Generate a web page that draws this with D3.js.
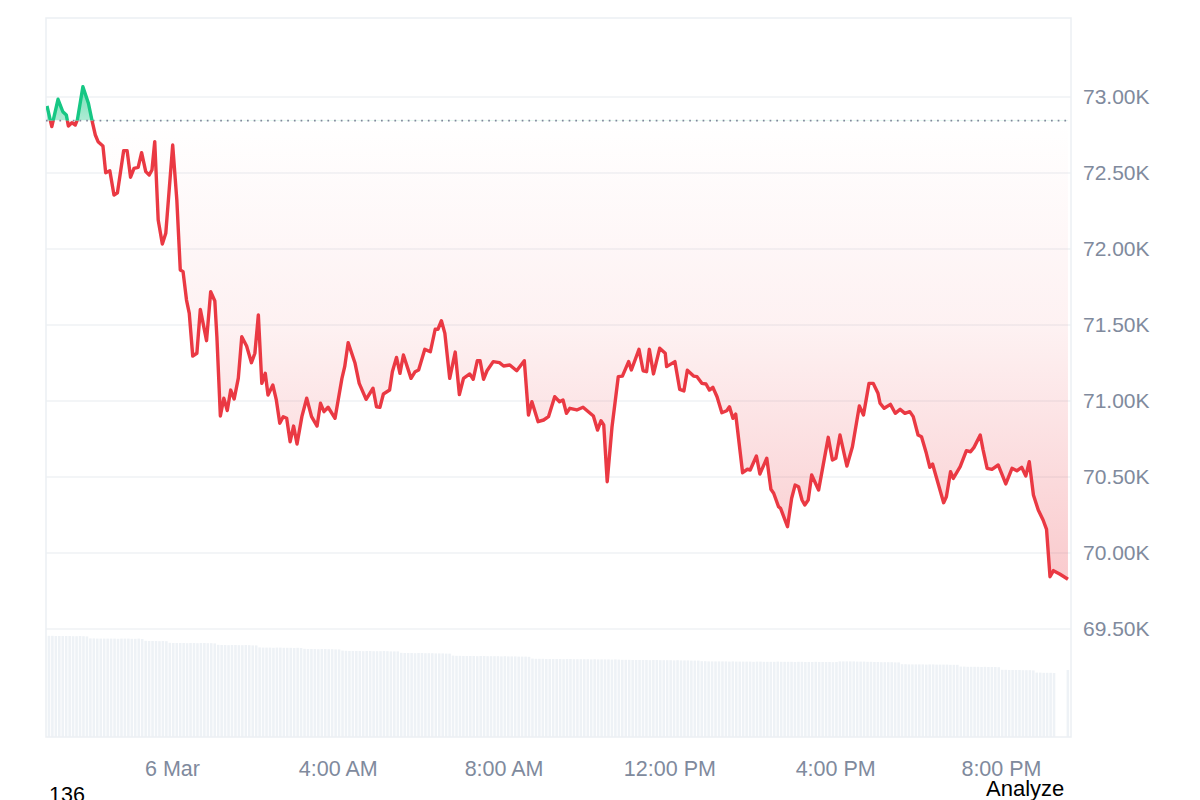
<!DOCTYPE html>
<html>
<head>
<meta charset="utf-8">
<script src="https://cdn.jsdelivr.net/npm/d3@7"></script>
<style>
  body { margin: 0; background: #fff; }
  svg { display: block; font-family: "Liberation Sans", Arial, sans-serif; }
</style>
</head>
<body>
<div id="chart"></div>
<script>
// minutes relative to 6 Mar 00:00
var minutes = [-181,-174,-165,-158,-153,-150,-145,-140,-137,-129,-121,-116,-111,-107,-100,-96,-90,-84,-79,-70,
  -65,-60,-55,-49,-44,-38,-33,-29,-25,-20,-14,-9,1,7,12,16,21,25,30,36,
  41,50,56,62,65,70,75,80,85,90,96,101,108,115,120,125,130,135,139,146,
  151,156,161,166,171,176,181,188,195,202,210,215,220,226,236,246,250,255,265,271,
  281,291,296,301,306,315,319,325,330,335,346,352,357,366,374,381,385,390,395,402,
  410,416,422,431,436,442,446,451,456,465,474,480,489,499,510,516,521,530,538,545,
  554,561,566,571,576,586,595,610,616,621,625,630,637,646,652,661,665,676,682,687,
  691,697,706,714,716,728,735,741,746,755,760,767,773,778,783,789,796,803,807,812,
  816,826,833,837,846,851,861,867,871,878,881,891,897,902,907,912,916,921,926,936,
  950,956,961,967,977,985,995,1001,1009,1015,1022,1025,1031,1040,1047,1054,1061,1068,1073,1080,
  1085,1092,1097,1101,1117,1121,1127,1131,1141,1150,1156,1161,1170,1174,1180,1187,1196,1207,1216,1223,
  1230,1236,1241,1247,1254,1261,1266,1271,1276,1285,1297];

var prices = [72941,72805,72985,72903,72882,72809,72831,72816,72849,73068,72959,72849,72750,72706,72678,72502,72515,72355,72370,72647,
  72647,72472,72531,72537,72634,72509,72487,72520,72706,72191,72033,72103,72684,72322,71862,71851,71664,71577,71296,71314,
  71603,71397,71719,71658,71421,70901,71018,70937,71072,71013,71151,71423,71362,71252,71314,71566,71116,71182,71039,71105,
  71007,70853,70897,70886,70732,70835,70717,70897,71018,70897,70835,70985,70930,70959,70886,71149,71226,71384,71248,71116,
  71011,71084,70962,70958,71046,71072,71193,71287,71182,71303,71149,71193,71204,71340,71324,71472,71472,71528,71445,71149,
  71322,71043,71149,71178,71143,71265,71265,71143,71199,71259,71252,71230,71237,71199,71265,70908,70995,70864,70875,70897,
  71028,70995,71007,70919,70952,70941,70959,70901,70809,70870,70842,70469,70831,71160,71164,71259,71204,71340,71199,71193,
  71340,71178,71347,71314,71226,71259,71076,71066,71202,71164,71160,71116,71112,71072,71090,71028,70923,70936,70962,70886,
  70914,70528,70551,70546,70638,70520,70623,70419,70393,70305,70294,70173,70360,70447,70436,70349,70316,70349,70513,70414,
  70761,70612,70623,70776,70572,70699,70967,70908,71116,71116,71051,70985,70952,70978,70919,70945,70919,70930,70897,70776,
  70765,70656,70564,70585,70331,70370,70535,70491,70568,70673,70666,70695,70776,70682,70557,70550,70579,70454,70557,70541,
  70564,70507,70601,70382,70283,70217,70156,69844,69884,69862,69827];

var openPrice = 72845;

// volume bars, one every 5 minutes from -180 (B USD)
var volStart = -180, volStep = 5;
var volumes = [
  50.6,50.6,50.5,50.5,50.5,50.5,50.5,50.4,50.4,50.5,50.4,50.3,
  49.3,49.3,49.2,49.2,49.2,49.2,49.2,49.2,49.1,49.2,49.2,49.2,49.1,49.1,49.2,49.0,
  48.1,48.0,48.0,48.0,47.9,48.0,47.9,
  47.1,47.0,47.0,47.0,47.0,46.9,47.0,47.0,46.9,47.0,47.0,46.9,46.9,46.8,
  46.1,46.0,46.0,45.9,46.0,46.0,45.9,45.9,46.0,45.9,45.8,45.8,
  44.8,44.7,44.7,44.7,44.6,44.7,44.7,44.6,44.6,44.6,44.5,44.6,44.5,
  44.1,44.0,44.0,44.0,43.9,44.0,44.0,43.9,43.9,43.8,43.8,
  43.2,43.1,43.0,43.0,43.0,43.0,42.9,43.0,43.0,42.9,42.9,42.9,43.0,42.9,42.8,42.8,42.8,
  42.1,42.0,42.0,42.0,41.9,42.0,42.0,41.9,41.9,41.9,41.8,41.8,41.8,41.7,41.7,
  40.7,40.6,40.6,40.5,40.5,40.5,40.5,40.4,40.5,40.5,40.4,40.4,40.4,40.4,40.3,40.4,40.3,40.3,40.3,40.2,40.2,40.2,40.1,
  39.2,39.1,39.1,39.1,39.0,39.0,39.0,39.0,39.0,38.9,39.0,39.0,38.9,38.9,38.9,38.9,38.9,38.8,38.9,38.8,38.8,38.8,38.8,38.7,38.8,38.7,
  38.6,38.6,38.6,38.5,38.5,38.5,38.5,38.5,38.4,38.5,38.5,38.4,38.4,38.4,38.4,38.3,38.4,38.3,38.3,38.3,38.2,38.2,38.2,
  37.9,37.9,37.8,37.8,37.8,37.8,37.8,37.8,37.7,37.8,37.7,37.7,37.7,37.7,37.7,37.6,37.7,37.7,37.6,37.6,
  37.6,37.6,37.7,37.6,37.6,37.6,37.6,37.5,37.6,37.6,37.5,37.5,37.5,37.6,37.5,37.5,37.5,37.5,37.4,37.5,
  37.8,37.8,37.8,37.8,37.8,37.7,37.7,37.7,37.6,37.6,
  37.5,37.5,37.4,37.4,37.4,37.4,37.3,37.3,
  36.4,36.4,36.3,36.3,36.3,36.3,36.3,36.2,36.3,36.3,36.2,36.2,36.2,36.2,36.1,36.1,36.1,
  35.2,35.2,35.1,35.1,35.1,35.1,35.0,35.1,35.0,35.0,35.0,34.9,
  33.6,33.6,33.5,33.5,33.5,33.5,33.4,33.4,33.4,33.3,
  32.2,32.2,32.1,32.1,32.1,32.0,
  null,null,null,
  33.5];

var xTickMinutes = [0, 240, 480, 720, 960, 1200];
var xTickLabels = ["6 Mar", "4:00 AM", "8:00 AM", "12:00 PM", "4:00 PM", "8:00 PM"];
var yTicks = [69500, 70000, 70500, 71000, 71500, 72000, 72500, 73000];

var W = 1200, H = 800;
// plot box (note: "top" is a window global, so use prefixed names)
var pLeft = 46, pRight = 1071, pTop = 18, pBottom = 737;
var base = new Date(2024, 2, 6, 0, 0);
var toDate = m => new Date(base.getTime() + m * 60000);

var red = "#ea3943", green = "#16c784", gridC = "#eff2f5", labelC = "#808a9d";

var svg = d3.select("#chart").append("svg")
    .attr("width", W)
    .attr("height", H);

var x = d3.scaleTime()
    .domain([toDate(-182.4), toDate(1301.4)])
    .range([pLeft, pRight]);

var y = d3.scaleLinear()
    .domain([69500, 73000])
    .range([629, 97]);

var yv = d3.scaleLinear()
    .domain([0, 51])
    .range([pBottom, pBottom - 102]);

var data = minutes.map((m, i) => ({t: toDate(m), v: prices[i]}));

var defs = svg.append("defs");
var gRed = defs.append("linearGradient").attr("id", "gRed")
    .attr("gradientUnits", "userSpaceOnUse")
    .attr("x1", 0).attr("x2", 0).attr("y1", y(openPrice)).attr("y2", 585);
gRed.append("stop").attr("offset", 0).attr("stop-color", red).attr("stop-opacity", 0.0);
gRed.append("stop").attr("offset", 0.45).attr("stop-color", red).attr("stop-opacity", 0.07);
gRed.append("stop").attr("offset", 1).attr("stop-color", red).attr("stop-opacity", 0.27);

var gGreen = defs.append("linearGradient").attr("id", "gGreen")
    .attr("gradientUnits", "userSpaceOnUse")
    .attr("x1", 0).attr("x2", 0).attr("y1", y(openPrice)).attr("y2", 85);
gGreen.append("stop").attr("offset", 0).attr("stop-color", green).attr("stop-opacity", 0.35);
gGreen.append("stop").attr("offset", 1).attr("stop-color", green).attr("stop-opacity", 0.6);

defs.append("clipPath").attr("id", "above").append("rect")
    .attr("x", pLeft).attr("y", 0).attr("width", pRight - pLeft).attr("height", y(openPrice));
defs.append("clipPath").attr("id", "below").append("rect")
    .attr("x", pLeft).attr("y", y(openPrice)).attr("width", pRight - pLeft).attr("height", pBottom - y(openPrice));

// gridlines
svg.append("g").selectAll("line")
    .data(yTicks).enter().append("line")
    .attr("x1", pLeft).attr("x2", pRight)
    .attr("y1", d => y(d)).attr("y2", d => y(d))
    .attr("stroke", gridC).attr("stroke-width", 1.5);

// volume
var bw = x(toDate(volStep)) - x(toDate(0)) - 0.9;
svg.append("g").selectAll("rect")
    .data(volumes.map((v, i) => ({t: toDate(volStart + i * volStep), v: v})).filter(d => d.v != null))
    .enter().append("rect")
    .attr("x", d => x(d.t))
    .attr("y", d => yv(d.v))
    .attr("width", bw)
    .attr("height", d => yv(0) - yv(d.v))
    .attr("fill", "#eef2f6");

// chart frame
svg.append("rect")
    .attr("x", pLeft).attr("y", pTop)
    .attr("width", pRight - pLeft).attr("height", pBottom - pTop)
    .attr("fill", "none").attr("stroke", "#eceff3").attr("stroke-width", 1.5);

// fills
var area = d3.area()
    .x(d => x(d.t))
    .y0(y(openPrice))
    .y1(d => y(d.v));

svg.append("path").datum(data)
    .attr("d", area)
    .attr("fill", "url(#gRed)")
    .attr("clip-path", "url(#below)");
svg.append("path").datum(data)
    .attr("d", area)
    .attr("fill", "url(#gGreen)")
    .attr("clip-path", "url(#above)");

// open price dotted line
svg.append("line")
    .attr("x1", pLeft).attr("x2", pRight)
    .attr("y1", y(openPrice)).attr("y2", y(openPrice))
    .attr("stroke", "#80879b")
    .attr("stroke-width", 1.7)
    .attr("stroke-dasharray", "1.7,5");

var line = d3.line()
    .x(d => x(d.t))
    .y(d => y(d.v));

svg.append("path").datum(data)
    .attr("d", line)
    .attr("fill", "none").attr("stroke", red).attr("stroke-width", 3.4)
    .attr("stroke-linejoin", "round")
    .attr("clip-path", "url(#below)");
svg.append("path").datum(data)
    .attr("d", line)
    .attr("fill", "none").attr("stroke", green).attr("stroke-width", 3.4)
    .attr("stroke-linejoin", "round")
    .attr("clip-path", "url(#above)");

// axes
var yAxis = svg.append("g")
    .attr("transform", "translate(" + pRight + ",0)")
    .call(d3.axisRight(y).tickValues(yTicks).tickSize(0).tickPadding(12)
        .tickFormat(d => (d / 1000).toFixed(2) + "K"));
yAxis.select(".domain").remove();
yAxis.selectAll("text")
    .attr("fill", labelC)
    .style("font-size", "21px")
    .style("font-family", "Liberation Sans, Arial, sans-serif");

var xAxis = svg.append("g")
    .attr("transform", "translate(0," + pBottom + ")")
    .call(d3.axisBottom(x).tickValues(xTickMinutes.map(toDate)).tickSize(0)
        .tickFormat((d, i) => xTickLabels[i]));
xAxis.select(".domain").remove();
xAxis.selectAll("text")
    .attr("y", 39).attr("dy", null)
    .attr("fill", labelC)
    .style("font-size", "21.5px")
    .style("font-family", "Liberation Sans, Arial, sans-serif");

// footer texts
svg.append("text")
    .attr("x", 49).attr("y", 802)
    .attr("fill", "#000")
    .style("font-size", "21.5px")
    .text("136");
svg.append("text")
    .attr("x", 986).attr("y", 796)
    .attr("fill", "#000")
    .style("font-size", "22px")
    .text("Analyze");
</script>
</body>
</html>
